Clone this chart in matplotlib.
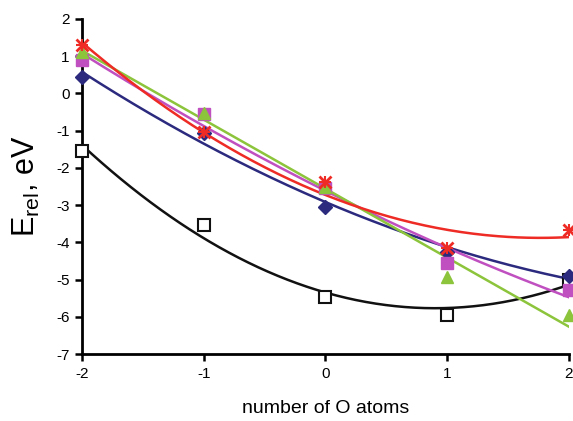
import numpy as np
import matplotlib
matplotlib.use("Agg")
import matplotlib.pyplot as plt

plt.rcParams['font.family'] = ['Liberation Sans', 'DejaVu Sans']
plt.rcParams['axes.unicode_minus'] = False

n_oxygen = [-2, -1, 0, 1, 2]

# relative energies (eV)
e_black = [-1.54, -3.54, -5.46, -5.96, -5.02]
e_blue = [0.45, -1.05, -3.05, -4.25, -4.90]
e_magenta = [0.90, -0.55, -2.55, -4.56, -5.28]
e_green = [1.12, -0.53, -2.50, -4.93, -5.95]
e_red = [1.30, -1.03, -2.37, -4.16, -3.67]

series = [
    # values, colour, marker, filled, trend degree
    (e_black, "#111111", "s", False, 2),
    (e_blue, "#2b2a7e", "D", True, 2),
    (e_magenta, "#c04fc0", "s", True, 2),
    (e_green, "#8cc43c", "^", True, 1),
    (e_red, "#ee2b25", "x", True, 2),
]

fig = plt.figure(figsize=(5.73, 4.21), dpi=100)
ax = fig.add_axes([0.143, 0.159, 0.850, 0.796])

xs = np.linspace(-2, 2, 200)
for vals, col, mk, filled, deg in series:
    coef = np.polyfit(n_oxygen, vals, deg)
    ax.plot(xs, np.polyval(coef, xs), color=col, lw=1.8, zorder=2)

for vals, col, mk, filled, deg in series:
    if mk == "x":
        ax.plot(n_oxygen, vals, linestyle="none", marker="x", ms=9, mew=2,
                color=col, clip_on=False, zorder=3)
        ax.plot(n_oxygen, vals, linestyle="none", marker="+", ms=9, mew=1.5,
                color=col, clip_on=False, zorder=3)
    elif filled:
        ax.plot(n_oxygen, vals, linestyle="none", marker=mk, ms=8 if mk != "D" else 7.5,
                color=col, mec=col, clip_on=False, zorder=3)
    else:
        ax.plot(n_oxygen, vals, linestyle="none", marker=mk, ms=8, mfc="white",
                mec=col, mew=1.5, clip_on=False, zorder=3)

ax.set_xlim(-2, 2)
ax.set_ylim(-7, 2)
ax.set_xticks(n_oxygen)
ax.set_yticks(range(-7, 3))
ax.spines['top'].set_visible(False)
ax.spines['right'].set_visible(False)
for s in ('left', 'bottom'):
    ax.spines[s].set_linewidth(2)
ax.tick_params(width=1.8, length=5, labelsize=11, direction='out', pad=4)

ax.set_xlabel("number of O atoms", fontsize=14, labelpad=14)
ax.set_ylabel(r"E$_{\mathregular{rel}}$, eV", fontsize=22, labelpad=10)

fig.savefig("out.png", dpi=100)
